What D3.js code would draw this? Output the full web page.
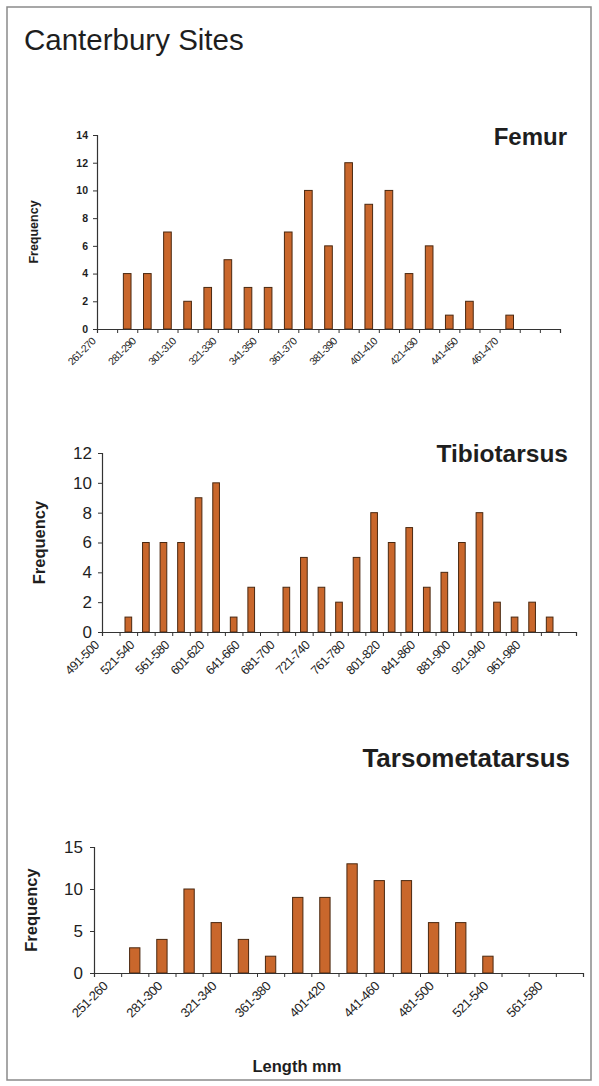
<!DOCTYPE html>
<html>
<head>
<meta charset="utf-8">
<script src="https://cdn.jsdelivr.net/npm/d3@7"></script>
<style>
  body { margin: 0; background: #fff; }
  svg { display: block; font-family: "Liberation Sans", Arial, sans-serif; }
</style>
</head>
<body>
<svg id="chart" width="599" height="1086"></svg>
<script>
// femur: 10 mm bins
const femurCats = ["261-270","271-280","281-290","291-300","301-310","311-320","321-330","331-340",
  "341-350","351-360","361-370","371-380","381-390","391-400","401-410","411-420","421-430",
  "431-440","441-450","451-460","461-470","471-480","481-490"];
const femurValues = [0,4,4,7,2,3,5,3,3,7,10,6,12,9,10,4,6,1,2,0,1,0,0];
const femurTicks = [0,2,4,6,8,10,12,14];

// tibiotarsus: 20 mm bins
const tibioCats = ["491-500","501-520","521-540","541-560","561-580","581-600","601-620","621-640",
  "641-660","661-680","681-700","701-720","721-740","741-760","761-780","781-800","801-820",
  "821-840","841-860","861-880","881-900","901-920","921-940","941-960","961-980","981-1000","1001-1020"];
const tibioValues = [0,1,6,6,6,9,10,1,3,0,3,5,3,2,5,8,6,7,3,4,6,8,2,1,2,1,0];
const tibioTicks = [0,2,4,6,8,10,12];

// tarsometatarsus: 20 mm bins
const tarsoCats = ["251-260","261-280","281-300","301-320","321-340","341-360","361-380","381-400",
  "401-420","421-440","441-460","461-480","481-500","501-520","521-540","541-560","561-580","581-600"];
const tarsoValues = [0,3,4,10,6,4,2,9,9,13,11,11,6,6,2,0,0,0];
const tarsoTicks = [0,5,10,15];

const svg = d3.select("#chart");
const ink = "#1e1e1e";

// frame + main title
svg.append("rect")
    .attr("x", 7).attr("y", 7)
    .attr("width", 584).attr("height", 1073)
    .attr("fill", "#fff")
    .attr("stroke", "#8a8a8a")
    .attr("stroke-width", 1.5);

svg.append("text")
    .attr("x", 24).attr("y", 50)
    .attr("font-size", 29.5)
    .attr("fill", ink)
    .text("Canterbury Sites");

function drawHistogram(cfg) {
    const n = cfg.cats.length;

    const edge = d3.scaleLinear().domain([0, n]).range([cfg.left, cfg.right]);
    const x = d3.scaleBand()
        .domain(d3.range(n))
        .range([cfg.left, cfg.right])
        .paddingInner(cfg.pad)
        .paddingOuter(cfg.pad / 2);
    const y = d3.scaleLinear()
        .domain([0, cfg.ticks[cfg.ticks.length - 1]])
        .range([cfg.bottom, cfg.top]);

    const g = svg.append("g");

    // bars
    g.selectAll("rect.bar")
        .data(cfg.values.map((v, i) => ({ i, v })).filter(d => d.v > 0))
        .join("rect")
        .attr("class", "bar")
        .attr("x", d => x(d.i))
        .attr("y", d => y(d.v))
        .attr("width", x.bandwidth())
        .attr("height", d => y(0) - y(d.v))
        .attr("fill", "#c9672c")
        .attr("stroke", "#4a2810")
        .attr("stroke-width", 1);

    // y axis
    const yAxis = g.append("g")
        .attr("transform", `translate(${cfg.left},0)`)
        .call(d3.axisLeft(y).tickValues(cfg.ticks).tickSize(4).tickPadding(cfg.yPad));
    yAxis.select(".domain").attr("stroke", "#333").attr("stroke-width", 1.2);
    yAxis.selectAll(".tick line").attr("stroke", "#333");
    yAxis.selectAll("text")
        .attr("font-size", cfg.yFont)
        .attr("font-weight", cfg.yWeight)
        .attr("fill", ink)
        .attr("font-family", "'Liberation Sans', Arial, sans-serif");

    // x axis: ticks between categories
    const xAxis = g.append("g")
        .attr("transform", `translate(0,${cfg.bottom})`)
        .call(d3.axisBottom(edge).tickValues(d3.range(n + 1)).tickSize(4).tickFormat(""));
    xAxis.select(".domain").attr("stroke", "#333").attr("stroke-width", 1.2);
    xAxis.selectAll(".tick line").attr("stroke", "#333");

    // category labels, every other one, rotated
    g.selectAll("text.cat")
        .data(cfg.cats.map((c, i) => ({ c, i })).filter(d => cfg.shown.includes(d.c)))
        .join("text")
        .attr("class", "cat")
        .attr("transform", d => `translate(${x(d.i) + x.bandwidth() / 2 + cfg.labDx},${cfg.bottom + cfg.labDy}) rotate(-45)`)
        .attr("text-anchor", "end")
        .attr("font-size", cfg.xFont)
        .attr("letter-spacing", cfg.xSpacing)
        .attr("fill", ink)
        .text(d => d.c);

    // y title
    svg.append("text")
        .attr("transform", `translate(${cfg.fx},${(cfg.top + cfg.bottom) / 2}) rotate(-90)`)
        .attr("text-anchor", "middle")
        .attr("font-size", cfg.fFont)
        .attr("font-weight", "bold")
        .attr("fill", ink)
        .text("Frequency");

    // chart title
    svg.append("text")
        .attr("x", cfg.titleX).attr("y", cfg.titleY)
        .attr("text-anchor", "end")
        .attr("font-size", cfg.titleFont)
        .attr("font-weight", "bold")
        .attr("fill", ink)
        .text(cfg.title);
}

drawHistogram({
    title: "Femur", titleX: 567, titleY: 145, titleFont: 24,
    cats: femurCats, values: femurValues, ticks: femurTicks,
    shown: femurCats.filter((c, i) => i % 2 === 0 && i <= 20),
    left: 97, right: 560, top: 135, bottom: 329, pad: 0.62,
    yFont: 10.5, yWeight: "bold", yPad: 5,
    xFont: 10.5, xSpacing: -0.7, labDx: -11, labDy: 13,
    fx: 38, fFont: 12.5
});

drawHistogram({
    title: "Tibiotarsus", titleX: 568, titleY: 462, titleFont: 24.5,
    cats: tibioCats, values: tibioValues, ticks: tibioTicks,
    shown: tibioCats.filter((c, i) => i % 2 === 0 && i <= 24),
    left: 102, right: 576, top: 453, bottom: 632, pad: 0.62,
    yFont: 17, yWeight: "normal", yPad: 6,
    xFont: 12.5, xSpacing: -0.6, labDx: -11, labDy: 14,
    fx: 45, fFont: 16.5
});

drawHistogram({
    title: "Tarsometatarsus", titleX: 570, titleY: 767, titleFont: 26,
    cats: tarsoCats, values: tarsoValues, ticks: tarsoTicks,
    shown: tarsoCats.filter((c, i) => i % 2 === 0 && i <= 16),
    left: 94, right: 583, top: 847, bottom: 973, pad: 0.62,
    yFont: 17, yWeight: "normal", yPad: 7,
    xFont: 13, xSpacing: -0.5, labDx: 1, labDy: 14,
    fx: 37, fFont: 16.5
});

svg.append("text")
    .attr("x", 297).attr("y", 1072)
    .attr("text-anchor", "middle")
    .attr("font-size", 16.5)
    .attr("font-weight", "bold")
    .attr("fill", ink)
    .text("Length mm");
</script>
</body>
</html>
